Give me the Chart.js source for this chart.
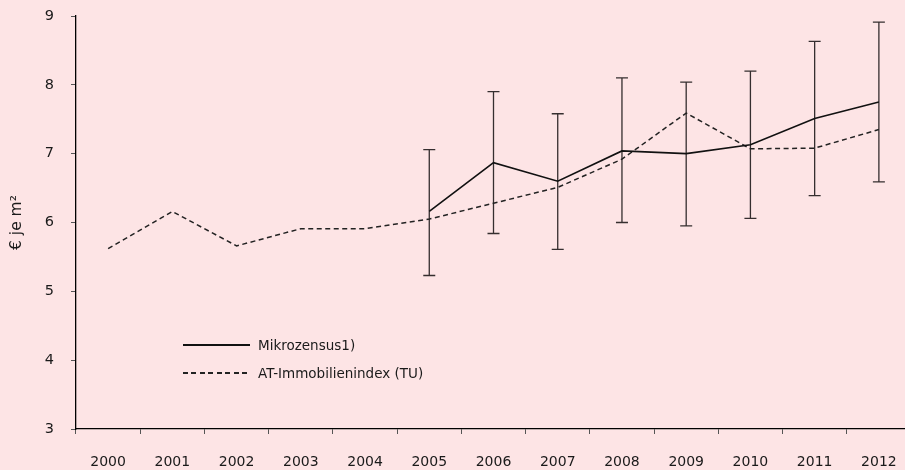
<!DOCTYPE html>
<html>
<head>
<meta charset="utf-8">
<script src="https://cdn.jsdelivr.net/npm/chart.js@4/dist/chart.umd.min.js"></script>
<style>
  html, body { margin: 0; padding: 0; background: #fde4e5; overflow: hidden; width: 905px; height: 470px; }
  #wrap { position: relative; width: 911px; height: 470px; }
  #legend { position: absolute; left: 183px; top: 331px; font-family: "DejaVu Sans", sans-serif; font-size: 13.5px; color: #1a1a1a; }
  .row { display: flex; align-items: center; height: 28px; }
  .sample { width: 67px; height: 1.5px; margin-right: 8px; }
</style>
</head>
<body>
<div id="wrap">
  <canvas id="c" width="911" height="470"></canvas>
  <div id="legend"></div>
</div>
<script>
const years = ["2000","2001","2002","2003","2004","2005","2006","2007","2008","2009","2010","2011","2012"];
const mikrozensus = [null,null,null,null,null,6.16,6.87,6.60,7.04,7.00,7.13,7.51,7.75];
const mikroLow  = [null,null,null,null,null,5.23,5.84,5.61,6.00,5.95,6.06,6.39,6.59];
const mikroHigh = [null,null,null,null,null,7.06,7.90,7.58,8.10,8.04,8.20,8.63,8.91];
const atIndex = [5.62,6.16,5.66,5.91,5.91,6.05,6.28,6.51,6.92,7.59,7.07,7.08,7.35];
const yTicks = [3,4,5,6,7,8,9];
const labelMikro = "Mikrozensus1)";
const labelAT = "AT-Immobilienindex (TU)";
const yTitle = "€ je m²";

const FONT = "'DejaVu Sans', sans-serif";

const errorBars = {
  id: 'errorBars',
  beforeDatasetsDraw(chart) {
    const ctx = chart.ctx;
    const xs = chart.scales.x, ys = chart.scales.y;
    ctx.save();
    ctx.strokeStyle = '#352e2f';
    ctx.lineWidth = 1.3;
    for (let i = 0; i < years.length; i++) {
      if (mikroLow[i] == null) continue;
      const x = xs.getPixelForValue(i);
      const y1 = ys.getPixelForValue(mikroLow[i]);
      const y2 = ys.getPixelForValue(mikroHigh[i]);
      ctx.beginPath();
      ctx.moveTo(x, y1); ctx.lineTo(x, y2);
      ctx.moveTo(x - 6, y1); ctx.lineTo(x + 6, y1);
      ctx.moveTo(x - 6, y2); ctx.lineTo(x + 6, y2);
      ctx.stroke();
    }
    ctx.restore();
  }
};

const chart = new Chart(document.getElementById('c'), {
  type: 'line',
  data: {
    labels: years,
    datasets: [
      { label: labelMikro, data: mikrozensus, borderColor: '#111', borderWidth: 1.6, pointRadius: 0, spanGaps: false, tension: 0 },
      { label: labelAT, data: atIndex, borderColor: '#222', borderWidth: 1.5, borderDash: [5,3.5], pointRadius: 0, tension: 0 }
    ]
  },
  options: {
    responsive: false,
    animation: false,
    layout: { padding: { top: 16, right: 0, bottom: 0, left: 0 } },
    plugins: { legend: { display: false }, tooltip: { enabled: false } },
    scales: {
      x: {
        type: 'category',
        offset: true,
        grid: { display: true, drawOnChartArea: false, offset: true, color: '#555', tickLength: 5, tickWidth: 1 },
        border: { display: true, color: '#000', width: 1.3 },
        ticks: { color: '#1a1a1a', font: { family: FONT, size: 14 }, padding: 20, maxRotation: 0, autoSkip: false },
        afterFit(s) { s.height = 41; s.paddingLeft = 0; s.paddingRight = 0; }
      },
      y: {
        min: 3, max: 9,
        afterBuildTicks(s) { s.ticks = yTicks.map(v => ({ value: v })); },
        grid: { display: true, drawOnChartArea: false, color: '#555', tickLength: 5 },
        border: { display: true, color: '#000', width: 1.3 },
        ticks: { color: '#1a1a1a', font: { family: FONT, size: 14.5 }, padding: 17 },
        title: { display: true, text: yTitle, color: '#1a1a1a', font: { family: FONT, size: 15.5 }, padding: { top: 8, bottom: 0 } },
        afterFit(s) { s.width = 76; s.paddingTop = 0; s.paddingBottom = 0; }
      }
    }
  },
  plugins: [errorBars]
});

const legend = document.getElementById('legend');
chart.data.datasets.forEach(ds => {
  const row = document.createElement('div');
  row.className = 'row';
  const s = document.createElement('span');
  s.className = 'sample';
  s.style.background = ds.borderDash
    ? 'repeating-linear-gradient(to right, ' + ds.borderColor + ' 0 5px, transparent 5px 8.5px)'
    : ds.borderColor;
  const t = document.createElement('span');
  t.textContent = ds.label;
  row.appendChild(s); row.appendChild(t);
  legend.appendChild(row);
});
</script>
</body>
</html>
